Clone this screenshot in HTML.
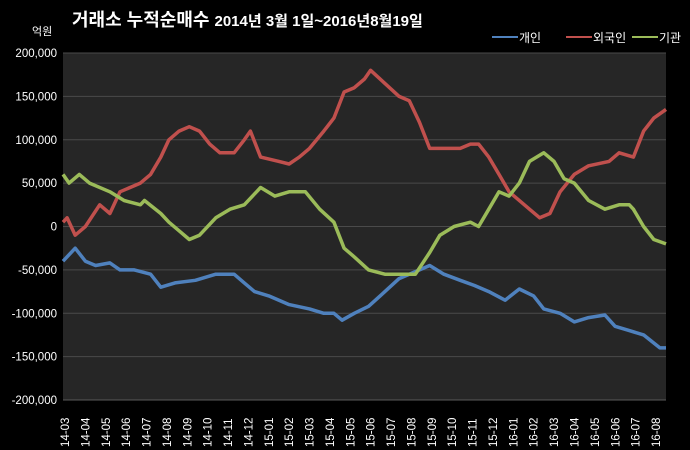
<!DOCTYPE html>
<html><head><meta charset="utf-8"><style>
body{margin:0;background:#000;}
svg{display:block;font-family:"Liberation Sans","Noto Sans CJK KR",sans-serif;}
</style></head><body>
<svg id="c" width="690" height="450">
<rect x="0" y="0" width="690" height="450" fill="#000"/>
<text x="72" y="26" fill="#fff" font-size="18" font-weight="bold">거래소 누적순매수 <tspan font-size="15">2014년 3월 1일~2016년8월19일</tspan></text>
<text x="32" y="35" fill="#fff" font-size="11">억원</text>
<g id="legend"></g>
<rect x="63" y="53" width="603" height="347" fill="#262626"/>
<g id="grid"></g><g id="ylab"></g><g id="xlab"></g><g id="series"></g>
</svg>
<script>
const months=["14-03","14-04","14-05","14-06","14-07","14-08","14-09","14-10","14-11","14-12","15-01","15-02","15-03","15-04","15-05","15-06","15-07","15-08","15-09","15-10","15-11","15-12","16-01","16-02","16-03","16-04","16-05","16-06","16-07","16-08"];
const yTicks=[200000,150000,100000,50000,0,-50000,-100000,-150000,-200000];
const yTickLabels=["200,000","150,000","100,000","50,000","0","-50,000","-100,000","-150,000","-200,000"];
const seriesNames=["개인","외국인","기관"];
const indivT=[0,0.6,1.1,1.6,2.3,2.8,3.5,4.3,4.8,5.5,6.5,7.5,8.4,8.9,9.4,10.1,11.1,12.1,12.8,13.3,13.7,14.3,15.0,15.8,16.5,17.3,18.0,18.7,19.5,20.2,20.9,21.7,22.4,23.1,23.6,24.4,25.1,25.8,26.6,27.1,27.8,28.5,29.3,29.6];
const indivV=[-40,-25,-40,-45,-42,-50,-50,-55,-70,-65,-62,-55,-55,-65,-75,-80,-90,-95,-100,-100,-108,-100,-92,-75,-60,-52,-45,-55,-62,-68,-75,-85,-72,-80,-95,-100,-110,-105,-102,-115,-120,-125,-140,-140];
const foreignT=[0,0.2,0.6,1.1,1.8,2.3,2.8,3.8,4.3,4.8,5.2,5.7,6.2,6.7,7.2,7.7,8.4,8.9,9.2,9.7,10.6,11.1,11.6,12.1,12.8,13.3,13.8,14.3,14.8,15.1,15.8,16.5,17.0,17.5,18.0,18.5,19.5,20.0,20.4,20.9,21.4,21.9,22.9,23.4,23.9,24.4,25.1,25.8,26.8,27.3,28.0,28.5,29.0,29.6];
const foreignV=[5,10,-10,0,25,15,40,50,60,80,100,110,115,110,95,85,85,100,110,80,75,72,80,90,110,125,155,160,170,180,165,150,145,120,90,90,90,95,95,80,60,40,20,10,15,40,60,70,75,85,80,110,125,135];
const instT=[0,0.3,0.8,1.3,2.3,3.0,3.8,4.0,4.8,5.2,5.7,6.2,6.7,7.5,8.2,8.9,9.7,10.4,11.1,11.9,12.6,13.3,13.8,14.3,15.0,15.8,16.5,17.3,18.0,18.5,19.2,20.0,20.4,20.9,21.4,21.9,22.4,22.9,23.6,24.1,24.6,25.1,25.8,26.6,27.3,27.8,28.0,28.5,29.0,29.6];
const instV=[60,50,60,50,40,30,25,30,15,5,-5,-15,-10,10,20,25,45,35,40,40,20,5,-25,-35,-50,-55,-55,-55,-30,-10,0,5,0,20,40,35,50,75,85,75,55,50,30,20,25,25,20,0,-15,-20];

const NS="http://www.w3.org/2000/svg";
const X0=63,X1=666,Y0=53,Y1=400;
const xOf=t=>X0+t*(X1-X0)/29.6;
const yOf=v=>Y0+(200000-v)/400000*(Y1-Y0);
function mk(tag,attrs,parent){const e=document.createElementNS(NS,tag);for(const k in attrs)e.setAttribute(k,attrs[k]);parent.appendChild(e);return e;}
const grid=document.getElementById('grid'),ylab=document.getElementById('ylab'),xlab=document.getElementById('xlab'),ser=document.getElementById('series'),leg=document.getElementById('legend');
yTicks.forEach((v,i)=>{
  const y=yOf(v);
  const l=mk('line',{x1:X0,x2:X1,y1:y,y2:y,stroke:v===-200000?'#5a5a5a':'#4a4a4a','stroke-width':1},grid);
  
  
  const t=mk('text',{x:57,y:y+4,'text-anchor':'end',fill:'#fff','font-size':11.5},ylab);
  t.textContent=yTickLabels[i];
  
  
});
months.forEach((m,i)=>{
  const x=65+i*20.38;
  const t=mk('text',{x:0,y:0,transform:`translate(${x+4},447) rotate(-90)`,fill:'#fff','font-size':11.5},xlab);
  t.textContent=m;
  
  
});
const colors=["#4f81bd","#c0504d","#9bbb59"];
[[indivT,indivV],[foreignT,foreignV],[instT,instV]].forEach((s,k)=>{
  const d=s[0].map((t,i)=>(i?'L':'M')+xOf(t).toFixed(1)+','+yOf(s[1][i]*1000).toFixed(1)).join('');
  const p=mk('path',{d:d,fill:'none',stroke:colors[k],'stroke-width':3.5,'stroke-linejoin':'round'},ser);
  
  
});
const lx=[492,566,632];
seriesNames.forEach((n,k)=>{
  const l=mk('line',{x1:lx[k],x2:lx[k]+26,y1:37,y2:37,stroke:colors[k],'stroke-width':2},leg);
  
  
  const t=mk('text',{x:lx[k]+27,y:42,fill:'#fff','font-size':12},leg);
  t.textContent=n;
  
  
});
</script>
</body></html>
